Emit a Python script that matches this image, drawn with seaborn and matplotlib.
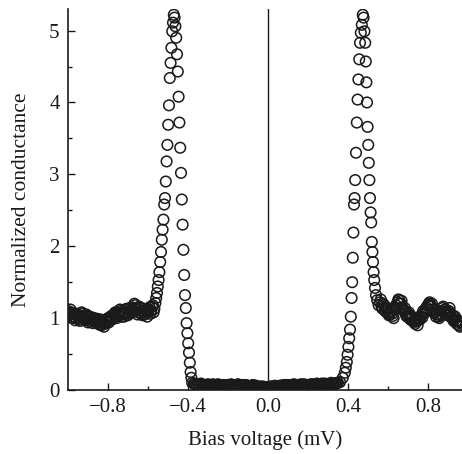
import numpy as np
import pandas as pd
import matplotlib
matplotlib.use("Agg")
import matplotlib.pyplot as plt
from matplotlib.ticker import MultipleLocator, FixedLocator
import seaborn as sns

# Bias sweep (mV) and normalized differential conductance, by segment
bias_left_tail = [-1.000, -0.996, -0.992, -0.988, -0.984, -0.980, -0.976, -0.972, -0.968, -0.964,
                  -0.960, -0.956, -0.952, -0.948, -0.944, -0.940, -0.936, -0.932, -0.928, -0.924,
                  -0.920, -0.916, -0.912, -0.908, -0.904, -0.900, -0.896, -0.892, -0.888, -0.884,
                  -0.880, -0.876, -0.872, -0.868, -0.864, -0.860, -0.856, -0.852, -0.848, -0.844,
                  -0.840, -0.836, -0.832, -0.828, -0.824, -0.820, -0.816, -0.812, -0.808, -0.804,
                  -0.800, -0.796, -0.792, -0.788, -0.784, -0.780, -0.776, -0.772, -0.768, -0.764,
                  -0.760, -0.756, -0.752, -0.748, -0.744, -0.740, -0.736, -0.732, -0.728, -0.724,
                  -0.720, -0.716, -0.712, -0.708, -0.704, -0.700, -0.696, -0.692, -0.688, -0.684,
                  -0.680, -0.676, -0.672, -0.668, -0.664, -0.660, -0.656, -0.652, -0.648, -0.644,
                  -0.640, -0.636, -0.632, -0.628, -0.624, -0.620, -0.616, -0.612, -0.608, -0.604,
                  -0.600, -0.596, -0.592, -0.588, -0.584, -0.580, -0.576, -0.572, -0.568]
cond_left_tail = [1.10, 1.04, 1.06, 1.12, 1.08, 1.00, 1.02, 1.07, 1.05, 0.97,
                  1.00, 1.06, 1.04, 1.01, 0.98, 0.96, 1.02, 1.08, 1.06, 1.03,
                  1.00, 0.99, 0.97, 1.05, 1.03, 0.94, 0.99, 1.02, 0.95, 0.98,
                  1.01, 0.93, 0.96, 1.00, 0.98, 0.95, 0.93, 0.99, 0.97, 0.91,
                  0.95, 0.98, 0.90, 0.93, 0.94, 0.88, 0.92, 0.96, 0.97, 0.99,
                  1.00, 0.94, 0.96, 1.01, 1.03, 0.98, 1.00, 1.04, 1.06, 1.08,
                  1.02, 1.00, 1.08, 1.06, 1.04, 1.12, 1.10, 1.02, 1.05, 1.09,
                  1.02, 1.06, 1.08, 1.13, 1.12, 1.04, 1.06, 1.14, 1.10, 1.08,
                  1.15, 1.12, 1.09, 1.20, 1.18, 1.14, 1.12, 1.05, 1.08, 1.16,
                  1.14, 1.10, 1.06, 1.04, 1.10, 1.13, 1.05, 1.08, 1.12, 1.02,
                  1.08, 1.12, 1.15, 1.06, 1.10, 1.16, 1.18, 1.08, 1.13]

bias_left_peak = [-0.563, -0.559, -0.555, -0.551, -0.547, -0.543, -0.539, -0.535, -0.531, -0.527,
                  -0.523, -0.519, -0.515, -0.511, -0.507, -0.503, -0.499, -0.495, -0.491, -0.487,
                  -0.483, -0.479, -0.475, -0.471,
                  -0.467, -0.463, -0.459, -0.455, -0.451, -0.447, -0.443, -0.439, -0.435, -0.431,
                  -0.427, -0.423, -0.419, -0.415, -0.411, -0.407, -0.403, -0.399, -0.395, -0.391,
                  -0.387, -0.383, -0.379]
cond_left_peak = [1.21, 1.28, 1.35, 1.44, 1.53, 1.64, 1.78, 1.92, 2.09, 2.23,
                  2.37, 2.58, 2.67, 2.90, 3.18, 3.41, 3.69, 3.96, 4.34, 4.55,
                  4.76, 4.99, 5.11, 5.22,
                  5.18, 5.06, 4.90, 4.67, 4.43, 4.08, 3.72, 3.37, 3.02, 2.65,
                  2.30, 1.95, 1.60, 1.32, 1.14, 0.93, 0.79, 0.65, 0.52, 0.38,
                  0.25, 0.17, 0.10]

bias_gap = [-0.370, -0.365, -0.360, -0.355, -0.350, -0.345, -0.340, -0.335, -0.330, -0.325,
            -0.320, -0.315, -0.310, -0.305, -0.300, -0.295, -0.290, -0.285, -0.280, -0.275,
            -0.270, -0.265, -0.260, -0.255, -0.250, -0.245, -0.240, -0.235, -0.230, -0.225,
            -0.220, -0.215, -0.210, -0.205, -0.200, -0.195, -0.190, -0.185, -0.180, -0.175,
            -0.170, -0.165, -0.160, -0.155, -0.150, -0.145, -0.140, -0.135, -0.130, -0.125,
            -0.120, -0.115, -0.110, -0.105, -0.100, -0.095, -0.090, -0.085, -0.080, -0.075,
            -0.070, -0.065, -0.060, -0.055, -0.050, -0.045, -0.040, -0.035, -0.030, -0.025,
            -0.020, -0.015, -0.010, -0.005, 0.000, 0.005, 0.010, 0.015, 0.020, 0.025,
            0.030, 0.035, 0.040, 0.045, 0.050, 0.055, 0.060, 0.065, 0.070, 0.075,
            0.080, 0.085, 0.090, 0.095, 0.100, 0.105, 0.110, 0.115, 0.120, 0.125,
            0.130, 0.135, 0.140, 0.145, 0.150, 0.155, 0.160, 0.165, 0.170, 0.175,
            0.180, 0.185, 0.190, 0.195, 0.200, 0.205, 0.210, 0.215, 0.220, 0.225,
            0.230, 0.235, 0.240, 0.245, 0.250, 0.255, 0.260, 0.265, 0.270, 0.275,
            0.280, 0.285, 0.290, 0.295, 0.300, 0.305, 0.310, 0.315, 0.320, 0.325,
            0.330, 0.335, 0.340, 0.345, 0.350]
cond_gap = [0.09, 0.08, 0.07, 0.06, 0.08, 0.07, 0.06, 0.09, 0.07, 0.05,
            0.05, 0.07, 0.06, 0.06, 0.08, 0.07, 0.06, 0.05, 0.07, 0.08,
            0.05, 0.06, 0.06, 0.07, 0.08, 0.05, 0.06, 0.07, 0.05, 0.06,
            0.07, 0.05, 0.06, 0.07, 0.04, 0.05, 0.06, 0.08, 0.07, 0.06,
            0.05, 0.07, 0.06, 0.05, 0.08, 0.07, 0.06, 0.05, 0.05, 0.07,
            0.06, 0.05, 0.07, 0.06, 0.05, 0.04, 0.04, 0.05, 0.06, 0.07,
            0.05, 0.04, 0.06, 0.05, 0.04, 0.03, 0.05, 0.04, 0.03, 0.05,
            0.04, 0.03, 0.03, 0.04, 0.04, 0.03, 0.05, 0.04, 0.03, 0.05,
            0.04, 0.06, 0.05, 0.04, 0.04, 0.05, 0.06, 0.06, 0.05, 0.04,
            0.07, 0.06, 0.06, 0.07, 0.05, 0.06, 0.07, 0.05, 0.06, 0.07,
            0.08, 0.06, 0.06, 0.07, 0.05, 0.06, 0.07, 0.08, 0.06, 0.05,
            0.08, 0.07, 0.07, 0.06, 0.05, 0.07, 0.06, 0.08, 0.08, 0.07,
            0.07, 0.06, 0.06, 0.09, 0.08, 0.08, 0.07, 0.07, 0.09, 0.06,
            0.07, 0.09, 0.08, 0.07, 0.06, 0.08, 0.08, 0.10, 0.09, 0.08,
            0.07, 0.09, 0.09, 0.10, 0.10]

bias_right_peak = [0.360, 0.374, 0.384, 0.389, 0.394, 0.398, 0.402, 0.406, 0.410, 0.414,
                   0.418, 0.421, 0.424, 0.427, 0.430, 0.433, 0.436, 0.440, 0.444, 0.448,
                   0.452, 0.456, 0.460, 0.464, 0.469,
                   0.474, 0.478, 0.482, 0.486, 0.489, 0.492, 0.495, 0.498, 0.501, 0.504,
                   0.507, 0.510, 0.513, 0.516, 0.519, 0.522, 0.525, 0.528, 0.531, 0.535,
                   0.540, 0.546, 0.553]
cond_right_peak = [0.11, 0.17, 0.24, 0.31, 0.39, 0.49, 0.60, 0.72, 0.84, 1.02,
                   1.28, 1.50, 1.84, 2.19, 2.58, 2.67, 2.92, 3.30, 3.72, 4.04,
                   4.32, 4.60, 4.83, 4.97, 5.08,
                   5.22, 5.18, 4.99, 4.83, 4.57, 4.28, 4.00, 3.66, 3.41, 3.16,
                   2.92, 2.67, 2.47, 2.33, 2.06, 1.92, 1.78, 1.64, 1.53, 1.42,
                   1.32, 1.25, 1.18]

bias_right_tail = [0.560, 0.564, 0.568, 0.572, 0.576, 0.580, 0.584, 0.588, 0.592, 0.596,
                   0.600, 0.604, 0.608, 0.612, 0.616, 0.620, 0.624, 0.628, 0.632, 0.636,
                   0.640, 0.644, 0.648, 0.652, 0.656, 0.660, 0.664, 0.668, 0.672, 0.676,
                   0.680, 0.684, 0.688, 0.692, 0.696, 0.700, 0.704, 0.708, 0.712, 0.716,
                   0.720, 0.724, 0.728, 0.732, 0.736, 0.740, 0.744, 0.748, 0.752, 0.756,
                   0.760, 0.764, 0.768, 0.772, 0.776, 0.780, 0.784, 0.788, 0.792, 0.796,
                   0.800, 0.804, 0.808, 0.812, 0.816, 0.820, 0.824, 0.828, 0.832, 0.836,
                   0.840, 0.844, 0.848, 0.852, 0.856, 0.860, 0.864, 0.868, 0.872, 0.876,
                   0.880, 0.884, 0.888, 0.892, 0.896, 0.900, 0.904, 0.908, 0.912, 0.916,
                   0.920, 0.924, 0.928, 0.932, 0.936, 0.940, 0.944, 0.948, 0.952, 0.956,
                   0.960, 0.964, 0.968]
cond_right_tail = [1.22, 1.26, 1.16, 1.13, 1.20, 1.18, 1.12, 1.09, 1.15, 1.13,
                   1.08, 1.04, 1.05, 1.08, 1.10, 1.06, 1.03, 1.00, 1.12, 1.15,
                   1.18, 1.14, 1.22, 1.26, 1.25, 1.20, 1.20, 1.24, 1.15, 1.12,
                   1.10, 1.14, 1.06, 1.03, 1.02, 1.06, 1.08, 1.02, 0.98, 1.03,
                   1.00, 0.96, 0.95, 0.98, 0.92, 0.95, 0.96, 0.90, 1.00, 0.98,
                   0.98, 1.02, 1.05, 1.01, 1.10, 1.07, 1.08, 1.13, 1.15, 1.12,
                   1.18, 1.20, 1.22, 1.18, 1.16, 1.20, 1.12, 1.08, 1.08, 1.12,
                   1.02, 1.05, 1.06, 1.02, 1.00, 1.04, 1.10, 1.06, 1.14, 1.16,
                   1.08, 1.12, 1.12, 1.06, 1.04, 1.08, 1.10, 1.14, 1.06, 1.02,
                   1.00, 1.04, 0.96, 0.98, 1.02, 0.95, 0.92, 0.97, 0.96, 0.90,
                   0.88, 0.94, 0.92]

x_major = [-0.8, -0.4, 0.0, 0.4, 0.8]
x_labels = ["\u22120.8", "\u22120.4", "0.0", "0.4", "0.8"]
x_minor = [-0.6, -0.2, 0.2, 0.6]
y_major = [0, 1, 2, 3, 4, 5]

df = pd.DataFrame({
    "bias": bias_left_tail + bias_left_peak + bias_gap + bias_right_peak + bias_right_tail,
    "conductance": cond_left_tail + cond_left_peak + cond_gap + cond_right_peak + cond_right_tail,
})

sns.set_theme(style="ticks")
plt.rcParams["font.family"] = ["Liberation Serif", "DejaVu Serif"]

ink = "#1a1a1a"
fig = plt.figure(figsize=(4.62, 4.54), dpi=100)
ax = fig.add_axes([68 / 462, 64 / 454, 394 / 462, 381 / 454])

ax.axvline(0.0, color=ink, lw=1.0, zorder=1)
sns.scatterplot(data=df, x="bias", y="conductance", ax=ax, marker="o",
                s=58, facecolors="none", edgecolor=ink, linewidth=1.1, zorder=3,
                legend=False)

ax.set_xlim(-1.0, 0.97)
ax.set_ylim(0, 5.3)
ax.xaxis.set_major_locator(FixedLocator(x_major))
ax.set_xticklabels(x_labels)
ax.xaxis.set_minor_locator(FixedLocator(x_minor))
ax.yaxis.set_major_locator(FixedLocator(y_major))
ax.yaxis.set_minor_locator(MultipleLocator(0.5))

for side in ("top", "right"):
    ax.spines[side].set_visible(False)
for side in ("left", "bottom"):
    ax.spines[side].set_linewidth(1.2)
    ax.spines[side].set_color(ink)

ax.tick_params(which="major", direction="in", length=5, width=1.0, color=ink,
               labelsize=15, labelcolor=ink, pad=6)
ax.tick_params(which="minor", direction="in", length=3, width=1.0, color=ink)

ax.set_xlabel("Bias voltage (mV)", fontsize=15, color=ink, labelpad=9)
ax.set_ylabel("Normalized conductance", fontsize=15.5, color=ink, labelpad=13)

fig.savefig("out.png", dpi=100)
